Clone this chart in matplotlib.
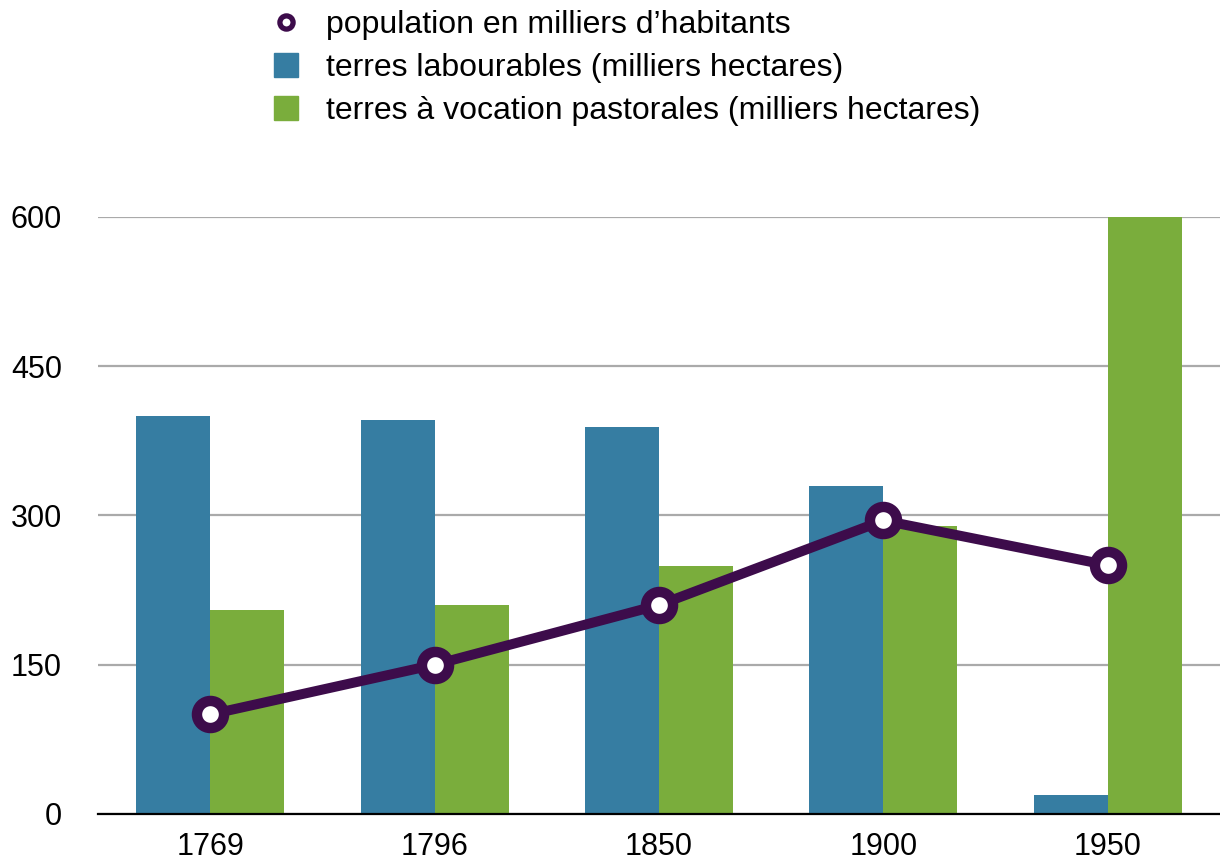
import matplotlib.pyplot as plt
import numpy as np
from matplotlib.lines import Line2D

plt.rcParams['font.family'] = ['Liberation Sans', 'DejaVu Sans']

# data
years = ['1769', '1796', '1850', '1900', '1950']
labourables = [400, 396, 389, 330, 19]
pastorales = [205, 210, 249, 289, 600]
population = [100, 150, 210, 295, 250]

blue = '#367da2'
green = '#7aad3c'
purple = '#3d0c4b'

fig = plt.figure(figsize=(12.2, 8.61), dpi=100)
ax = fig.add_axes([0.0803, 0.0546, 0.9197, 0.6934])

x = np.arange(len(years))
w = 0.33
ax.bar(x - w / 2, labourables, w, color=blue, zorder=2)
ax.bar(x + w / 2, pastorales, w, color=green, zorder=2)
ax.plot(x, population, color=purple, lw=7.2, marker='o', ms=19.5,
        mfc='white', mec=purple, mew=7.5, zorder=3, solid_capstyle='butt')

ax.set_xlim(-0.5, 4.5)
ax.set_ylim(0, 600)
ax.set_xticks(x)
ax.set_xticklabels(years)
ax.set_yticks([0, 150, 300, 450, 600])
ax.tick_params(axis='both', length=0, labelsize=22)
ax.tick_params(axis='y', pad=26)
ax.tick_params(axis='x', pad=13)
ax.yaxis.grid(True, color='#aaaaaa', lw=1.6, zorder=0)
ax.set_axisbelow(True)
for s in ['top', 'right', 'left']:
    ax.spines[s].set_visible(False)
ax.spines['bottom'].set_linewidth(1.6)
ax.spines['bottom'].set_zorder(4)

handles = [
    Line2D([], [], ls='none', marker='o', ms=9.5, mfc='white', mec=purple, mew=3.8),
    Line2D([], [], ls='none', marker='s', ms=17, color=blue),
    Line2D([], [], ls='none', marker='s', ms=17, color=green),
]
labels = ['population en milliers d\u2019habitants',
          'terres labourables (milliers hectares)',
          'terres \u00e0 vocation pastorales (milliers hectares)']
fig.legend(handles, labels, loc='upper left', bbox_to_anchor=(0.203, 1.014),
           frameon=False, fontsize=23, handlelength=1.0, handletextpad=0.75,
           labelspacing=0.4, borderpad=0.2)

fig.savefig('out.png', dpi=100)
